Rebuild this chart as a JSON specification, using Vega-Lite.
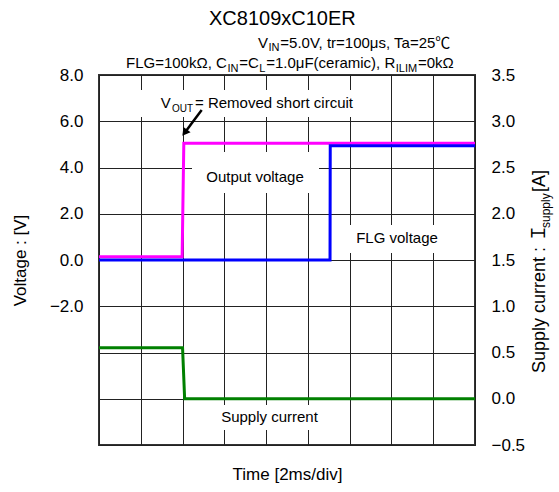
{
  "$schema": "https://vega.github.io/schema/vega-lite/v6.json",
  "autosize": {"type": "none"},
  "padding": {"left": 99, "top": 75, "right": 84, "bottom": 47},
  "width": 376,
  "height": 370,
  "config": {
    "font": "Liberation Sans, Noto Sans CJK JP",
    "view": {"stroke": "#333", "strokeWidth": 2},
    "axis": {"gridColor": "#222", "gridOpacity": 1, "gridWidth": 1, "labelColor": "#000", "titleColor": "#000"}
  },
  "datasets": {
    "vout": [
      {"t": 0, "v": 0.14}, {"t": 1.99, "v": 0.14}, {"t": 2.03, "v": 5.05}, {"t": 9, "v": 5.05}
    ],
    "flg": [
      {"t": 0, "v": 0.0}, {"t": 5.53, "v": 0.0}, {"t": 5.535, "v": 4.94}, {"t": 9, "v": 4.94}
    ],
    "current": [
      {"t": 0, "i": 0.552}, {"t": 2.0, "i": 0.552}, {"t": 2.05, "i": 0.0}, {"t": 9, "i": 0.0}
    ],
    "boxes": [
      {"t": 0.742, "t2": 6.367, "v": 7.351, "v2": 6.184},
      {"t": 2.226, "t2": 5.266, "v": 4.67, "v2": 2.897},
      {"t": 5.84, "t2": 8.449, "v": 1.514, "v2": 0.303},
      {"t": 2.298, "t2": 5.769, "v": -6.27, "v2": -7.351}
    ],
    "titleText": [
      {"t": 4.39, "v": 10.162, "text": "XC8109xC10ER"}
    ],
    "notes": [
      {"t": 3.734, "v": 3.602, "text": "Output voltage"},
      {"t": 7.133, "v": 0.938, "text": "FLG voltage"},
      {"t": 4.081, "v": -6.776, "text": "Supply current"}
    ],
    "notesLeft": [
      {"t": 1.477, "v": 6.56, "text": "V"},
      {"t": 2.298, "v": 6.56, "text": "= Removed short circuit"}
    ],
    "header": [
      {"t": 3.806, "v": 9.181, "text": "V"},
      {"t": 4.34, "v": 9.181, "text": "=5.0V, tr=100μs, Ta=25℃"},
      {"t": 0.646, "v": 8.298, "text": "FLG=100kΩ, C"},
      {"t": 3.358, "v": 8.298, "text": "=C"},
      {"t": 4.002, "v": 8.298, "text": "=1.0μF(ceramic), R"},
      {"t": 7.633, "v": 8.298, "text": "=0kΩ"}
    ],
    "subs": [
      {"t": 4.057, "v": 9.029, "text": "IN"},
      {"t": 3.076, "v": 8.147, "text": "IN"},
      {"t": 3.837, "v": 8.147, "text": "L"},
      {"t": 7.102, "v": 8.147, "text": "ILIM"}
    ],
    "subsNote": [
      {"t": 1.747, "v": 6.42, "text": "OUT"}
    ],
    "rightTitle": [
      {"t": 10.675, "v": -4.886, "text": "Supply current : Ｉ"},
      {"t": 10.675, "v": 2.941, "text": " [A]"}
    ],
    "rightTitleSub": [
      {"t": 10.79, "v": 1.384, "text": "supply"}
    ],
    "arrow": [
      {"t": 2.458, "v": 6.486, "t2": 2.051, "v2": 5.505}
    ],
    "arrowhead": [
      {"t": 2.051, "v": 5.505}
    ]
  },
  "layer": [
    {
      "layer": [
        {
          "data": {"name": "boxes"},
          "mark": {"type": "rect", "fill": "white", "strokeWidth": 0},
          "encoding": {
            "x": {"field": "t", "type": "quantitative", "scale": {"domain": [0, 9], "nice": false, "zero": false},
              "axis": {"values": [0, 1, 2, 3, 4, 5, 6, 7, 8, 9], "grid": true, "labels": false, "ticks": false, "domain": false, "title": "Time [2ms/div]", "titleFontSize": 17, "titleFontWeight": "normal", "titlePadding": 21}},
            "x2": {"field": "t2"},
            "y": {"field": "v", "type": "quantitative", "scale": {"domain": [-8, 8], "nice": false, "zero": false},
              "axis": {"values": [-8, -6, -4, -2, 0, 2, 4, 6, 8], "grid": true, "ticks": false, "domain": false, "labelExpr": "datum.value >= -2 ? format(datum.value, '.1f') : ''", "labelFontSize": 17, "labelPadding": 16, "title": "Voltage : [V]", "titleFontSize": 17, "titleFontWeight": "normal", "titlePadding": 20}},
            "y2": {"field": "v2"}
          }
        },
        {
          "data": {"name": "vout"},
          "mark": {"type": "line", "color": "#ff00ff", "strokeWidth": 3, "strokeJoin": "miter"},
          "encoding": {
            "x": {"field": "t", "type": "quantitative", "scale": {"domain": [0, 9], "nice": false, "zero": false}},
            "y": {"field": "v", "type": "quantitative", "scale": {"domain": [-8, 8], "nice": false, "zero": false}}
          }
        },
        {
          "data": {"name": "flg"},
          "mark": {"type": "line", "color": "#0000ff", "strokeWidth": 3, "strokeJoin": "miter"},
          "encoding": {
            "x": {"field": "t", "type": "quantitative", "scale": {"domain": [0, 9], "nice": false, "zero": false}},
            "y": {"field": "v", "type": "quantitative", "scale": {"domain": [-8, 8], "nice": false, "zero": false}}
          }
        },
        {
          "data": {"name": "titleText"},
          "mark": {"type": "text", "fontSize": 20, "align": "center", "baseline": "alphabetic", "color": "#000"},
          "encoding": {
            "x": {"field": "t", "type": "quantitative", "scale": {"domain": [0, 9], "nice": false, "zero": false}},
            "y": {"field": "v", "type": "quantitative", "scale": {"domain": [-8, 8], "nice": false, "zero": false}},
            "text": {"field": "text"}
          }
        },
        {
          "data": {"name": "notes"},
          "mark": {"type": "text", "fontSize": 15, "align": "center", "baseline": "middle", "color": "#000"},
          "encoding": {
            "x": {"field": "t", "type": "quantitative", "scale": {"domain": [0, 9], "nice": false, "zero": false}},
            "y": {"field": "v", "type": "quantitative", "scale": {"domain": [-8, 8], "nice": false, "zero": false}},
            "text": {"field": "text"}
          }
        },
        {
          "data": {"name": "notesLeft"},
          "mark": {"type": "text", "fontSize": 15, "align": "left", "baseline": "alphabetic", "color": "#000"},
          "encoding": {
            "x": {"field": "t", "type": "quantitative", "scale": {"domain": [0, 9], "nice": false, "zero": false}},
            "y": {"field": "v", "type": "quantitative", "scale": {"domain": [-8, 8], "nice": false, "zero": false}},
            "text": {"field": "text"}
          }
        },
        {
          "data": {"name": "header"},
          "mark": {"type": "text", "fontSize": 15, "align": "left", "baseline": "alphabetic", "color": "#000"},
          "encoding": {
            "x": {"field": "t", "type": "quantitative", "scale": {"domain": [0, 9], "nice": false, "zero": false}},
            "y": {"field": "v", "type": "quantitative", "scale": {"domain": [-8, 8], "nice": false, "zero": false}},
            "text": {"field": "text"}
          }
        },
        {
          "data": {"name": "subs"},
          "mark": {"type": "text", "fontSize": 11, "align": "left", "baseline": "alphabetic", "color": "#000"},
          "encoding": {
            "x": {"field": "t", "type": "quantitative", "scale": {"domain": [0, 9], "nice": false, "zero": false}},
            "y": {"field": "v", "type": "quantitative", "scale": {"domain": [-8, 8], "nice": false, "zero": false}},
            "text": {"field": "text"}
          }
        },
        {
          "data": {"name": "subsNote"},
          "mark": {"type": "text", "fontSize": 10, "align": "left", "baseline": "alphabetic", "color": "#000"},
          "encoding": {
            "x": {"field": "t", "type": "quantitative", "scale": {"domain": [0, 9], "nice": false, "zero": false}},
            "y": {"field": "v", "type": "quantitative", "scale": {"domain": [-8, 8], "nice": false, "zero": false}},
            "text": {"field": "text"}
          }
        },
        {
          "data": {"name": "rightTitle"},
          "mark": {"type": "text", "fontSize": 18, "align": "left", "baseline": "alphabetic", "angle": 270, "color": "#000"},
          "encoding": {
            "x": {"field": "t", "type": "quantitative", "scale": {"domain": [0, 9], "nice": false, "zero": false}},
            "y": {"field": "v", "type": "quantitative", "scale": {"domain": [-8, 8], "nice": false, "zero": false}},
            "text": {"field": "text"}
          }
        },
        {
          "data": {"name": "rightTitleSub"},
          "mark": {"type": "text", "fontSize": 12, "align": "left", "baseline": "alphabetic", "angle": 270, "color": "#000"},
          "encoding": {
            "x": {"field": "t", "type": "quantitative", "scale": {"domain": [0, 9], "nice": false, "zero": false}},
            "y": {"field": "v", "type": "quantitative", "scale": {"domain": [-8, 8], "nice": false, "zero": false}},
            "text": {"field": "text"}
          }
        },
        {
          "data": {"name": "arrow"},
          "mark": {"type": "rule", "color": "#000", "strokeWidth": 2.5},
          "encoding": {
            "x": {"field": "t", "type": "quantitative", "scale": {"domain": [0, 9], "nice": false, "zero": false}},
            "y": {"field": "v", "type": "quantitative", "scale": {"domain": [-8, 8], "nice": false, "zero": false}},
            "x2": {"field": "t2"},
            "y2": {"field": "v2"}
          }
        },
        {
          "data": {"name": "arrowhead"},
          "mark": {"type": "point", "shape": "triangle-up", "filled": true, "color": "#000", "size": 80, "angle": 217, "opacity": 1},
          "encoding": {
            "x": {"field": "t", "type": "quantitative", "scale": {"domain": [0, 9], "nice": false, "zero": false}},
            "y": {"field": "v", "type": "quantitative", "scale": {"domain": [-8, 8], "nice": false, "zero": false}}
          }
        }
      ]
    },
    {
      "data": {"name": "current"},
      "mark": {"type": "line", "color": "#008000", "strokeWidth": 3, "strokeJoin": "miter"},
      "encoding": {
        "x": {"field": "t", "type": "quantitative", "scale": {"domain": [0, 9], "nice": false, "zero": false}},
        "y": {"field": "i", "type": "quantitative", "scale": {"domain": [-0.5, 3.5], "nice": false, "zero": false},
          "axis": {"orient": "right", "values": [-0.5, 0, 0.5, 1, 1.5, 2, 2.5, 3, 3.5], "format": ".1f", "grid": false, "ticks": false, "domain": false, "labelFontSize": 17, "labelPadding": 16, "title": null}}
      }
    }
  ],
  "resolve": {"scale": {"y": "independent"}}
}
